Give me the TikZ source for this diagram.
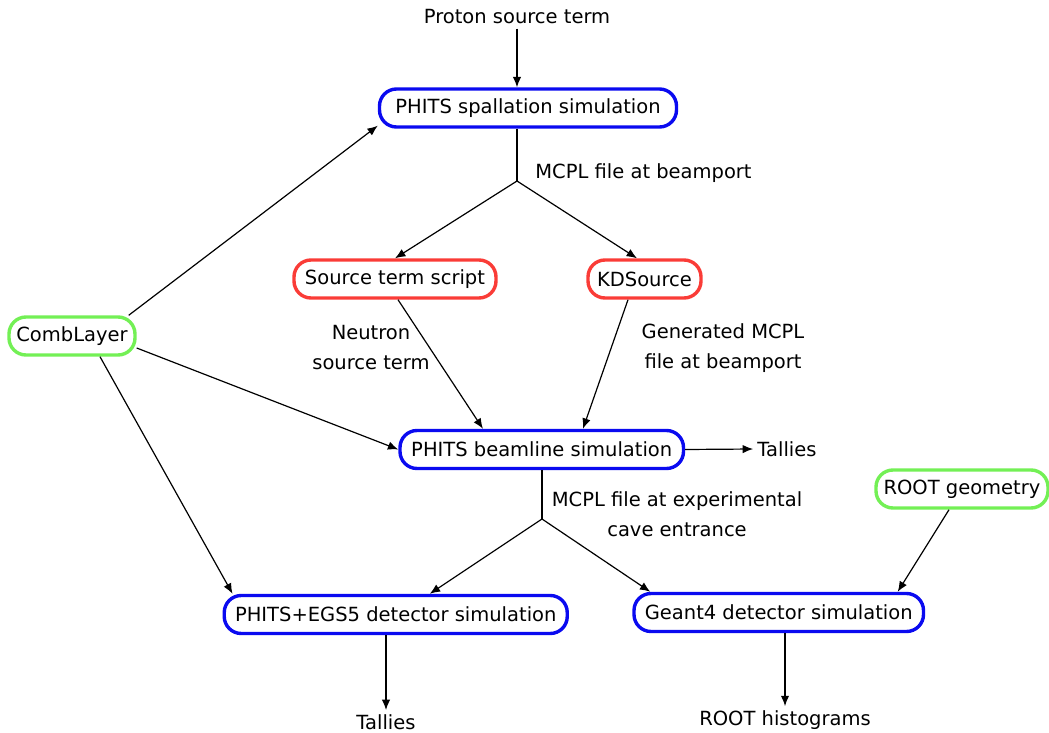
\documentclass[tikz,border=0pt]{standalone}
\usepackage{fontspec}
\setmainfont{DejaVu Sans}
\usetikzlibrary{arrows.meta}
\definecolor{simblue}{RGB}{10,10,240}
\definecolor{toolred}{RGB}{250,60,55}
\definecolor{geogreen}{RGB}{115,240,85}
\tikzstyle{simbox}=[draw=simblue, line width=1.7pt, rounded corners=8.5pt,
    minimum height=19pt, inner xsep=2pt, text centered]
\tikzstyle{toolbox}=[simbox, draw=toolred]
\tikzstyle{geobox}=[simbox, draw=geogreen]
\tikzstyle{plain}=[inner sep=2pt, align=center]
\tikzstyle{flow}=[-{Latex[length=5.2pt,width=4.2pt]}, line width=0.6pt]
\tikzstyle{link}=[line width=0.6pt]

\begin{document}
\begin{tikzpicture}[x=0.5pt, y=-0.5pt,
    every node/.style={font=\fontsize{9.75}{15}\selectfont}]
    \useasboundingbox (0,0) rectangle (1049,733);
    \node (spall) [simbox, minimum width=148.5pt] at (528,108)
    {PHITS spallation simulation};
    \path (spall)+(-11,-91) node (proton) [plain] {Proton source term};
    \path (spall)+(-133,171) node (src) [toolbox, minimum width=101pt] {Source term script};
    \path (spall)+(116.5,171) node (kds) [toolbox, minimum width=56.5pt] {KDSource};
    \path (spall)+(-456,228) node (comb) [geobox, minimum width=63pt] {CombLayer};
    \path (spall)+(13.75,341.5) node (beam) [simbox, minimum width=141.75pt] {PHITS beamline simulation};
    \path (spall)+(259,341) node (tallies1) [plain] {Tallies};
    \path (spall)+(434,381) node (rootgeo) [geobox, minimum width=86pt] {ROOT geometry};
    \path (spall)+(-132.25,506.5) node (phitsegs) [simbox, minimum width=171.5pt] {PHITS+EGS5 detector simulation};
    \path (spall)+(250.75,504.5) node (geant4) [simbox, minimum width=144.75pt] {Geant4 detector simulation};
    \path (spall)+(-142,614) node (tallies2) [plain] {Tallies};
    \path (spall)+(257,612) node (hist) [plain] {ROOT histograms};
    % branch points
    \path (spall)+(-11,73) coordinate (j1);
    \path (spall)+(14,411) coordinate (j2);
    % labels
    \path (spall)+(3,65) node (mcpl1) [plain, anchor=west] {MCPL file at beamport};
    \path (spall)+(149,406) node (mcpl2) [plain] {MCPL file at experimental\\cave entrance};
    \path (spall)+(-157,240) node (ntlabel) [plain] {Neutron\\source term};
    \path (spall)+(195,240) node (genlabel) [plain] {Generated MCPL\\file at beamport};
    % connectors
    \draw[flow] (proton) -- (proton |- spall.north);
    \draw[link] (spall.south -| j1) -- (j1);
    \draw[flow] (j1) -- (src.north);
    \draw[flow] (j1) -- ([xshift=-3.75pt]kds.north);
    \draw[flow] ([xshift=1.5pt]src.south) -- ([xshift=-29.4pt]beam.north);
    \draw[flow] ([xshift=-8.25pt]kds.south) -- ([xshift=20.6pt]beam.north);
    \draw[flow] ([xshift=-4pt]comb.north east) -- ([yshift=1.5pt]spall.south west);
    \draw[flow] ([yshift=-6pt]comb.east) -- (beam.west);
    \draw[flow] ([xshift=14pt]comb.south) -- ([xshift=5pt]phitsegs.north west);
    \draw[flow] (beam.east) -- (tallies1.west);
    \draw[link] (beam.south -| j2) -- (j2);
    \draw[flow] (j2) -- ([xshift=17pt]phitsegs.north);
    \draw[flow] (j2) -- ([xshift=9pt]geant4.north west);
    \draw[flow] ([xshift=-6.5pt]rootgeo.south) -- ([xshift=-13.75pt]geant4.north east);
    \draw[flow] (phitsegs.south -| tallies2) -- (tallies2.north);
    \draw[flow] (geant4.south -| hist) -- (hist.north);
\end{tikzpicture}
\end{document}
